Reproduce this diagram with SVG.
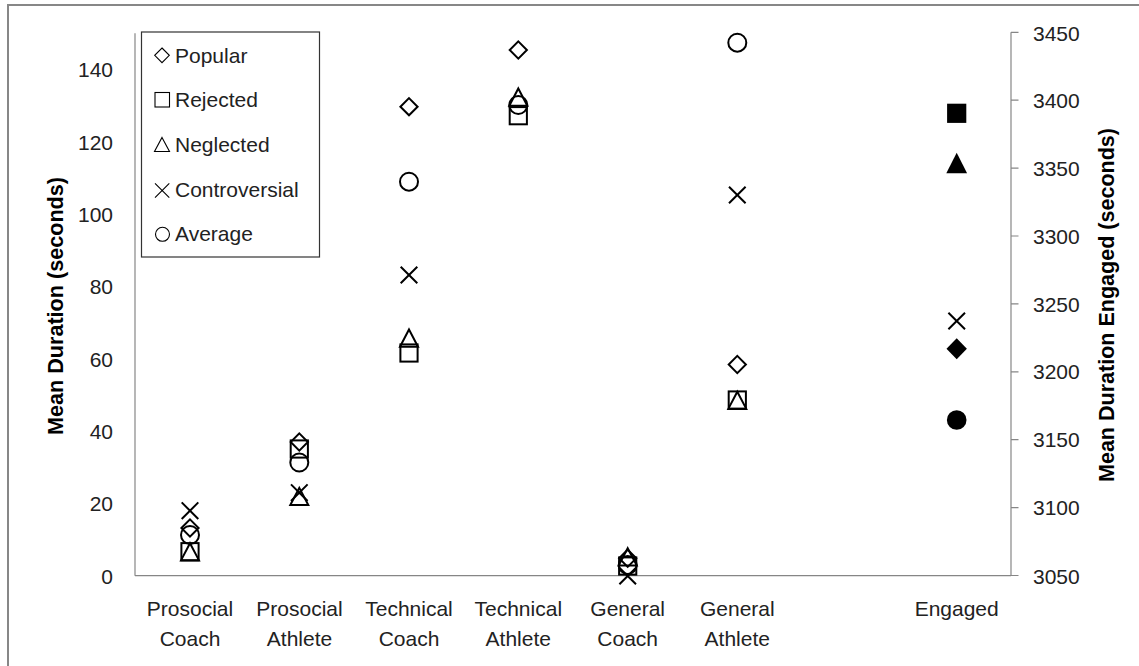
<svg xmlns="http://www.w3.org/2000/svg" width="1139" height="666" viewBox="0 0 1139 666">
<style>
.lbl{font-family:"Liberation Sans",Arial,sans-serif;font-size:21px;fill:#222}
.ttl{font-family:"Liberation Sans",Arial,sans-serif;font-size:21.5px;font-weight:bold;fill:#000}
.axis{stroke:#868686;stroke-width:1.2;fill:none}
.mk{fill:none;stroke:#000;stroke-width:2}
.lg{fill:none;stroke:#000;stroke-width:1.1}
.fill{fill:#000;stroke:none}
</style>
<defs>
<path id="diamond" class="mk" d="M0,-8.6 L8.6,0 L0,8.6 L-8.6,0Z"/>
<rect id="square" class="mk" x="-8.6" y="-8.6" width="17.2" height="17.2"/>
<path id="triangle" class="mk" d="M0,-8.8 L9,8.4 L-9,8.4Z"/>
<path id="cross" class="mk" d="M-8.3,-8.3 L8.3,8.3 M8.3,-8.3 L-8.3,8.3"/>
<circle id="circ" class="mk" r="9"/>
<path id="fdiamond" class="fill" d="M0,-10.5 L10.2,0 L0,10.5 L-10.2,0Z"/>
<rect id="fsquare" class="fill" x="-9.6" y="-9.6" width="19.2" height="19.2"/>
<path id="ftriangle" class="fill" d="M0,-10.3 L10.4,10.3 L-10.4,10.3Z"/>
<circle id="fcirc" class="fill" r="9.8"/>
</defs>
<rect x="0" y="0" width="1139" height="666" fill="#fff"/>
<rect id="frame" x="8" y="5" width="1200" height="700" fill="none" stroke="#878787" stroke-width="2"/>

<g id="axes">
<line class="axis" x1="135" y1="33.3" x2="135" y2="575.7"/>
<line class="axis" x1="135" y1="575.7" x2="1011" y2="575.7"/>
<line class="axis" x1="1011" y1="32.3" x2="1011" y2="575.7"/>
<path class="axis" d="M1011,32.3h7.5M1011,100.2h7.5M1011,168.1h7.5M1011,236h7.5M1011,303.9h7.5M1011,371.8h7.5M1011,439.7h7.5M1011,507.6h7.5M1011,575.5h7.5"/>
</g>

<g id="left-ticks" class="lbl" text-anchor="end">
<text x="113" y="77.3">140</text>
<text x="113" y="149.6">120</text>
<text x="113" y="221.9">100</text>
<text x="113" y="294.3">80</text>
<text x="113" y="366.6">60</text>
<text x="113" y="438.9">40</text>
<text x="113" y="511.2">20</text>
<text x="113" y="583.5">0</text>
</g>
<g id="right-ticks" class="lbl">
<text x="1033" y="40.5">3450</text>
<text x="1033" y="108.2">3400</text>
<text x="1033" y="176">3350</text>
<text x="1033" y="243.8">3300</text>
<text x="1033" y="311.6">3250</text>
<text x="1033" y="379.4">3200</text>
<text x="1033" y="447.2">3150</text>
<text x="1033" y="515">3100</text>
<text x="1033" y="583.5">3050</text>
</g>

<g id="categories" class="lbl" text-anchor="middle">
<text x="190" y="616">Prosocial</text><text x="190" y="646">Coach</text>
<text x="299.5" y="616">Prosocial</text><text x="299.5" y="646">Athlete</text>
<text x="409" y="616">Technical</text><text x="409" y="646">Coach</text>
<text x="518.3" y="616">Technical</text><text x="518.3" y="646">Athlete</text>
<text x="627.7" y="616">General</text><text x="627.7" y="646">Coach</text>
<text x="737.3" y="616">General</text><text x="737.3" y="646">Athlete</text>
<text x="956.7" y="616">Engaged</text>
</g>

<g id="title-left"><text class="ttl" text-anchor="middle" transform="translate(62.5,306) rotate(-90)" textLength="258" lengthAdjust="spacingAndGlyphs">Mean Duration (seconds)</text></g>
<g id="title-right"><text class="ttl" text-anchor="middle" transform="translate(1114,305) rotate(-90)" textLength="354" lengthAdjust="spacingAndGlyphs">Mean Duration Engaged (seconds)</text></g>

<g id="series-popular">
<use href="#diamond" x="190" y="528"/>
<use href="#diamond" x="299.3" y="442"/>
<use href="#diamond" x="409" y="106.7"/>
<use href="#diamond" x="518.3" y="50"/>
<use href="#diamond" x="627.7" y="558.3"/>
<use href="#diamond" x="737.3" y="364.5"/>
<use href="#fdiamond" x="956.7" y="348.8"/>
</g>
<g id="series-rejected">
<use href="#square" x="190" y="551.7"/>
<use href="#square" x="299.3" y="449"/>
<use href="#square" x="409" y="353"/>
<use href="#square" x="518.3" y="115.7"/>
<use href="#square" x="627.7" y="566"/>
<use href="#square" x="737.3" y="400"/>
<use href="#fsquare" x="956.7" y="113.3"/>
</g>
<g id="series-neglected">
<use href="#triangle" x="190" y="552"/>
<use href="#triangle" x="299.3" y="496.7"/>
<use href="#triangle" x="409" y="338.3"/>
<use href="#triangle" x="518.3" y="97.3"/>
<use href="#triangle" x="627.7" y="557"/>
<use href="#triangle" x="737.3" y="400.5"/>
<use href="#ftriangle" x="956.7" y="163"/>
</g>
<g id="series-controversial">
<use href="#cross" x="190" y="510.7"/>
<use href="#cross" x="299.3" y="492.7"/>
<use href="#cross" x="409" y="275"/>
<use href="#cross" x="627.7" y="576"/>
<use href="#cross" x="737.3" y="195"/>
<use href="#cross" x="956.7" y="321"/>
</g>
<g id="series-average">
<use href="#circ" x="190" y="535"/>
<use href="#circ" x="299.3" y="462.5"/>
<use href="#circ" x="409" y="181.7"/>
<use href="#circ" x="518.3" y="105"/>
<use href="#circ" x="627.7" y="565"/>
<use href="#circ" x="737.3" y="42.7"/>
<use href="#fcirc" x="956.7" y="420"/>
</g>

<g id="legend">
<rect x="141.5" y="32" width="178" height="225" fill="#fff" stroke="#333" stroke-width="1.2"/>
<path class="lg" d="M162,48 L169.3,55.3 L162,62.6 L154.7,55.3Z"/>
<rect class="lg" x="155" y="92.5" width="14.5" height="14.5"/>
<path class="lg" d="M162,137.5 L169.5,151.5 L154.5,151.5Z"/>
<path class="lg" d="M155,183.3 L169.3,197.6 M169.3,183.3 L155,197.6"/>
<circle class="lg" cx="162.5" cy="234.3" r="7"/>
<g class="lbl">
<text x="175" y="63.3">Popular</text>
<text x="175" y="106.7">Rejected</text>
<text x="175" y="151.7">Neglected</text>
<text x="175" y="197.3">Controversial</text>
<text x="175" y="240.7">Average</text>
</g>
</g>
</svg>
